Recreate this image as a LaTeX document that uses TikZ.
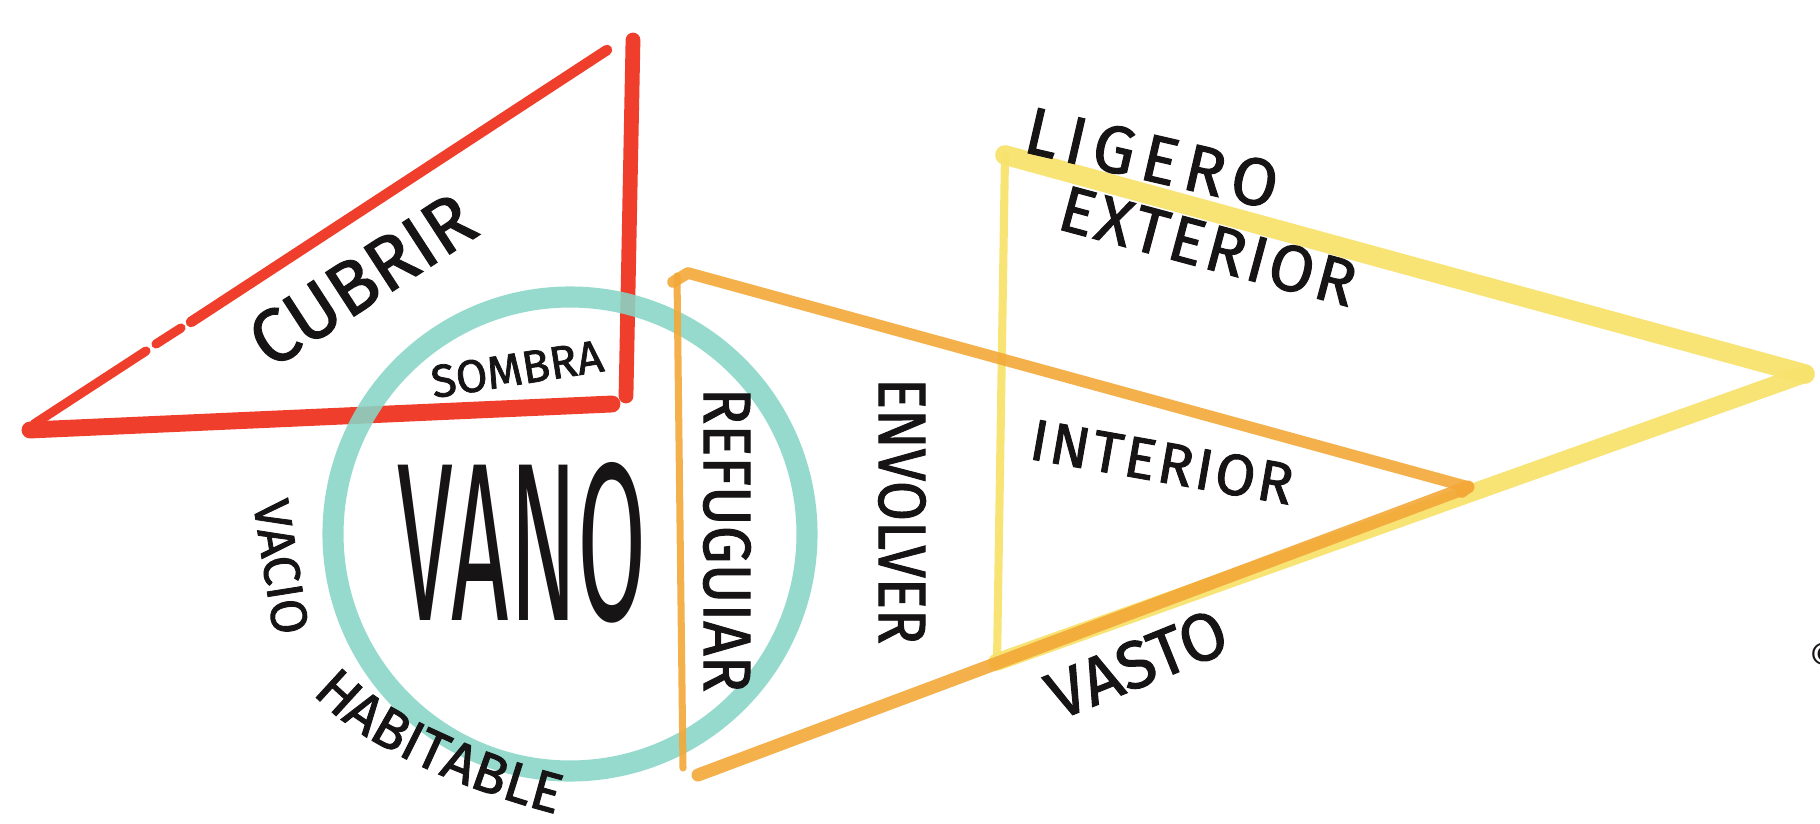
\documentclass[tikz,border=0pt]{standalone}
\usepackage{fontspec}
\setmainfont{Fira Sans}
\usetikzlibrary{decorations.text}
\definecolor{redm}{RGB}{240,62,44}
\definecolor{tealm}{RGB}{136,214,199}
\definecolor{orangem}{RGB}{243,168,56}
\definecolor{yellowm}{RGB}{248,226,110}
\definecolor{inkm}{RGB}{22,20,20}
\newcommand\fsz[1]{\fontsize{#1}{#1}\selectfont\addfontfeature{FakeBold=1.6}}
\newcommand\habfont{\fontsize{16pt}{16pt}\selectfont\addfontfeature{FakeBold=1.6}\color{inkm}}
\begin{document}
\begin{tikzpicture}[x=0.01cm,y=-0.01cm,
  mk/.style={line cap=round,line join=round},
  lbl/.style={inner sep=0pt,text=inkm}]
\fill[white] (0,0) rectangle (1820,824);
\useasboundingbox (0,0) rectangle (1820,824);

% red triangle
\draw[mk,redm,line width=2.6pt] (34,424) -- (146,351);
\draw[mk,redm,line width=2.6pt] (156,344) -- (181,328);
\draw[mk,redm,line width=3pt] (191,322) -- (607,50);
\draw[mk,redm,line width=4.2pt] (633,40) -- (626,396);
\draw[mk,redm,line width=4.8pt] (30,430) -- (612,404);

% teal circle
\draw[tealm,line width=6pt,opacity=0.88] (570,534) ellipse [x radius=237, y radius=237];

% yellow triangle
\coordinate (Y1) at (1005,155);
\coordinate (Y2) at (997,662);
\coordinate (Y3) at (1805,374);
\draw[mk,yellowm,line width=2.3pt,opacity=0.95] (Y1) -- (Y2);
\draw[mk,yellowm,line width=5.6pt,opacity=0.95] (Y1) -- (Y3);
\draw[mk,yellowm,line width=5pt,opacity=0.95] (Y2) -- (Y3);

% orange triangle
\coordinate (O1) at (677,276);
\coordinate (O2) at (683,768);
\coordinate (O3) at (698,775);
\coordinate (O4) at (1468,487);
\draw[mk,orangem,line width=2pt,opacity=0.9] (O1) -- (O2);
\draw[mk,orangem,line width=3.3pt,opacity=0.9] (673,282) -- (688,273) -- (O4) -- (1462,492);
\draw[mk,orangem,line width=3.7pt,opacity=0.9] (O3) -- (O4);

% texts
\node[lbl,rotate=33,font=\fsz{21.5pt}] (cubrir) at (362,280) {CUBRIR};
\node[lbl,rotate=9,font=\fsz{13pt}] (sombra) at (517,369) {SOMBRA};
\node[lbl,yscale=2.25,font={\fontsize{28.5pt}{28.5pt}\selectfont}] (vano) at (522,543) {VANO};
\node[lbl,rotate=-81,font=\fsz{14.5pt}] (vacio) at (281,567) {VACIO};
\path[decorate,decoration={text along path,text={|\habfont|HABITABLE},text align=center}]
  (310,690) .. controls (360,750) and (480,795) .. (560,815);
\node[lbl,rotate=-90,xscale=0.9,font=\fsz{19pt}] (refugiar) at (727,540) {REFUGUIAR};
\node[lbl,rotate=-90,xscale=0.87,font=\fsz{19pt}] (envolver) at (902,511) {ENVOLVER};
\node[lbl,rotate=-13,font=\fsz{19pt}\addfontfeature{LetterSpace=12}] (ligero) at (1152,158) {LIGERO};
\node[lbl,rotate=-15,font=\fsz{18.5pt}\addfontfeature{LetterSpace=5}] (exterior) at (1208,246) {EXTERIOR};
\node[lbl,rotate=-10,font=\fsz{16.5pt}\addfontfeature{LetterSpace=5}] (interior) at (1162,462) {INTERIOR};
\node[lbl,rotate=22,font=\fsz{19pt}] (vasto) at (1137,664) {VASTO};
\node[lbl,anchor=west,font={\fontsize{10pt}{10pt}\selectfont}] (copy) at (1809,656) {©};
\end{tikzpicture}
\end{document}
